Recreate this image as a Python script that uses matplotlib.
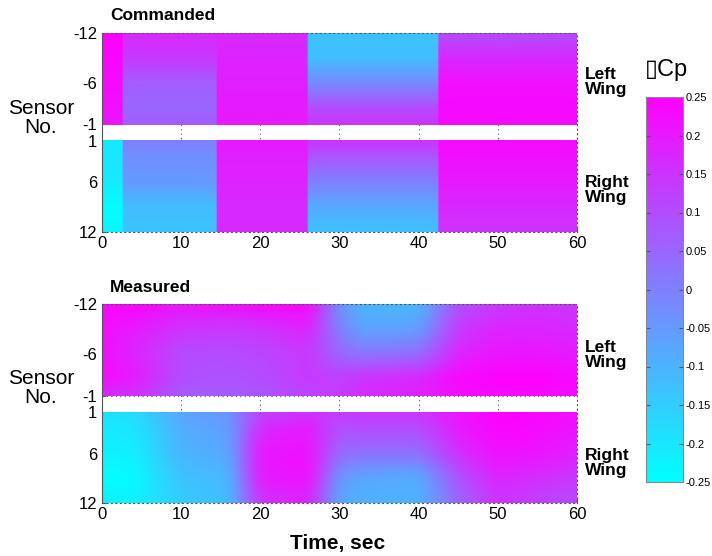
import numpy as np
import matplotlib
matplotlib.use("Agg")
import matplotlib.pyplot as plt

plt.rcParams['font.family'] = ['Liberation Sans', 'DejaVu Sans']

# ---------------- data ----------------
# Commanded: piecewise constant in time, profile across sensors
cmd_edges = [0, 2.7, 14.5, 26, 42.5, 60]
left_rows = [-12, -9, -6, -3, -1]
right_rows = [1, 3, 6, 9, 12]
cmd_left = [  # one row per time segment, values at left_rows
    [0.25, 0.24, 0.23, 0.22, 0.21],
    [0.17, 0.14, 0.07, 0.05, 0.07],
    [0.17, 0.18, 0.19, 0.20, 0.20],
    [-0.13, -0.12, -0.02, 0.10, 0.15],
    [0.10, 0.17, 0.22, 0.23, 0.23],
]
cmd_right = [
    [-0.21, -0.20, -0.21, -0.25, -0.23],
    [0.00, -0.03, -0.05, -0.12, -0.13],
    [0.20, 0.19, 0.18, 0.17, 0.17],
    [0.15, 0.08, 0.00, -0.08, -0.13],
    [0.23, 0.22, 0.20, 0.17, 0.15],
]

# Measured: smooth field sampled at these times
meas_t = [0, 4, 10, 16, 20, 26, 30, 33, 40, 45, 50, 55, 60]
meas_left = [  # rows = left_rows, columns = meas_t
    [0.24, 0.24, 0.21, 0.22, 0.23, 0.24, -0.04, -0.11, -0.11, 0.10, 0.14, 0.15, 0.14],
    [0.22, 0.20, 0.15, 0.14, 0.15, 0.18, 0.00, -0.07, -0.06, 0.14, 0.18, 0.18, 0.17],
    [0.22, 0.18, 0.10, 0.10, 0.11, 0.14, 0.05, 0.02, 0.04, 0.18, 0.21, 0.21, 0.20],
    [0.23, 0.20, 0.10, 0.09, 0.10, 0.14, 0.13, 0.16, 0.18, 0.24, 0.25, 0.25, 0.24],
    [0.16, 0.15, 0.07, 0.07, 0.08, 0.12, 0.13, 0.16, 0.18, 0.22, 0.23, 0.23, 0.22],
]
meas_right = [  # rows = right_rows
    [-0.19, -0.18, -0.07, -0.04, 0.12, 0.15, 0.13, 0.15, 0.15, 0.21, 0.25, 0.24, 0.22],
    [-0.21, -0.20, -0.09, -0.06, 0.17, 0.20, 0.09, 0.10, 0.10, 0.20, 0.24, 0.23, 0.21],
    [-0.22, -0.22, -0.10, -0.08, 0.21, 0.22, 0.04, 0.03, 0.03, 0.16, 0.22, 0.21, 0.19],
    [-0.25, -0.24, -0.13, -0.11, 0.20, 0.22, -0.05, -0.08, -0.09, 0.09, 0.18, 0.16, 0.14],
    [-0.22, -0.22, -0.15, -0.12, 0.15, 0.18, -0.08, -0.10, -0.10, 0.05, 0.15, 0.12, 0.10],
]

x_ticks = [0, 10, 20, 30, 40, 50, 60]
y_ticks = [-12, -6, -1, 1, 6, 12]
cbar_ticks = [0.25, 0.2, 0.15, 0.1, 0.05, 0, -0.05, -0.1, -0.15, -0.2, -0.25]

# ---------------- helpers ----------------
tf = np.linspace(0, 60, 900)
sl = np.linspace(-12, -1, 120)
sr = np.linspace(1, 12, 120)


def smooth(z, n, axis):
    k = np.ones(n) / n
    pad = [(0, 0), (0, 0)]
    pad[axis] = (n // 2, n - 1 - n // 2)
    zp = np.pad(z, pad, mode='edge')
    return np.apply_along_axis(lambda v: np.convolve(v, k, mode='valid'), axis, zp)


def cmd_grid(vals, rows, sfine):
    vals = np.asarray(vals)
    seg = np.clip(np.searchsorted(cmd_edges, tf, side='right') - 1, 0, len(vals) - 1)
    prof = np.array([np.interp(sfine, rows, v) for v in vals])  # (nseg, ns)
    return smooth(prof[seg].T, 3, 1)  # (ns, nt)


def meas_grid(vals, rows, sfine):
    vals = np.asarray(vals)
    a = np.array([np.interp(tf, meas_t, r) for r in vals])  # (nrows, nt)
    z = np.array([np.interp(sfine, rows, a[:, j]) for j in range(len(tf))]).T
    for _ in range(2):
        z = smooth(z, 30, 1)
        z = smooth(z, 15, 0)
    return z


W, H = 712, 556
fig = plt.figure(figsize=(W / 100, H / 100), dpi=100)
norm = matplotlib.colors.Normalize(-0.25, 0.25)
cmap = plt.get_cmap('cool')


def panel(y_top, y_bot, zl, zr, title, ttl_y, sens_y, lw_y, rw_y):
    ax = fig.add_axes([101.5 / W, 1 - y_bot / H, 475.5 / W, (y_bot - y_top) / H])
    ax.set_axisbelow(True)
    ax.grid(True, linestyle=(0, (1, 3)), color='#555555', linewidth=0.8)
    m = ax.pcolormesh(tf, sl, zl, cmap=cmap, norm=norm, shading='auto', rasterized=True)
    ax.pcolormesh(tf, sr, zr, cmap=cmap, norm=norm, shading='auto', rasterized=True)
    ax.set_xlim(0, 60)
    ax.set_ylim(12, -12)
    ax.set_xticks(x_ticks)
    ax.set_yticks(y_ticks)
    ax.set_yticklabels([str(v) for v in y_ticks])
    ax.tick_params(direction='in', length=3, labelsize=12, color='#555555', pad=3)
    for s in ['top', 'right', 'bottom']:
        ax.spines[s].set_linestyle((0, (1, 3)))
        ax.spines[s].set_color('#555555')
        ax.spines[s].set_linewidth(0.8)
    ax.spines['left'].set_color('#555555')
    ax.spines['left'].set_linewidth(0.8)
    fig.text(110 / W, 1 - ttl_y / H, title, fontsize=12.5, fontweight='bold', va='center', ha='left')
    fig.text(41 / W, 1 - sens_y / H, 'Sensor\nNo.', fontsize=15, ha='center', va='center', linespacing=1.0)
    fig.text(585 / W, 1 - lw_y / H, 'Left\nWing', fontsize=12.5, fontweight='bold', ha='left', va='center', linespacing=1.0)
    fig.text(585 / W, 1 - rw_y / H, 'Right\nWing', fontsize=12.5, fontweight='bold', ha='left', va='center', linespacing=1.0)
    return ax, m


ax1, m = panel(33.3, 231.7, cmd_grid(cmd_left, left_rows, sl), cmd_grid(cmd_right, right_rows, sr),
               'Commanded', 15, 118, 82, 190)
ax2, _ = panel(304.3, 503.3, meas_grid(meas_left, left_rows, sl), meas_grid(meas_right, right_rows, sr),
               'Measured', 288, 388, 355, 463)

fig.text(338 / W, 1 - 544 / H, 'Time, sec', fontsize=15, fontweight='bold', ha='center', va='center')

cax = fig.add_axes([646 / W, 1 - 482 / H, 37 / W, 385 / H])
cb = fig.colorbar(m, cax=cax, ticks=cbar_ticks)
cb.ax.set_yticklabels([('%g' % v) for v in cbar_ticks])
cb.ax.tick_params(labelsize=8, direction='in', length=3, left=True, right=True, color='#555555', pad=2)
cb.outline.set_edgecolor('#888888')
cb.outline.set_linewidth(0.8)
fig.text(666 / W, 1 - 70 / H, '\u25afCp', fontsize=17, ha='center', va='center')

fig.savefig('out.png', dpi=100)
